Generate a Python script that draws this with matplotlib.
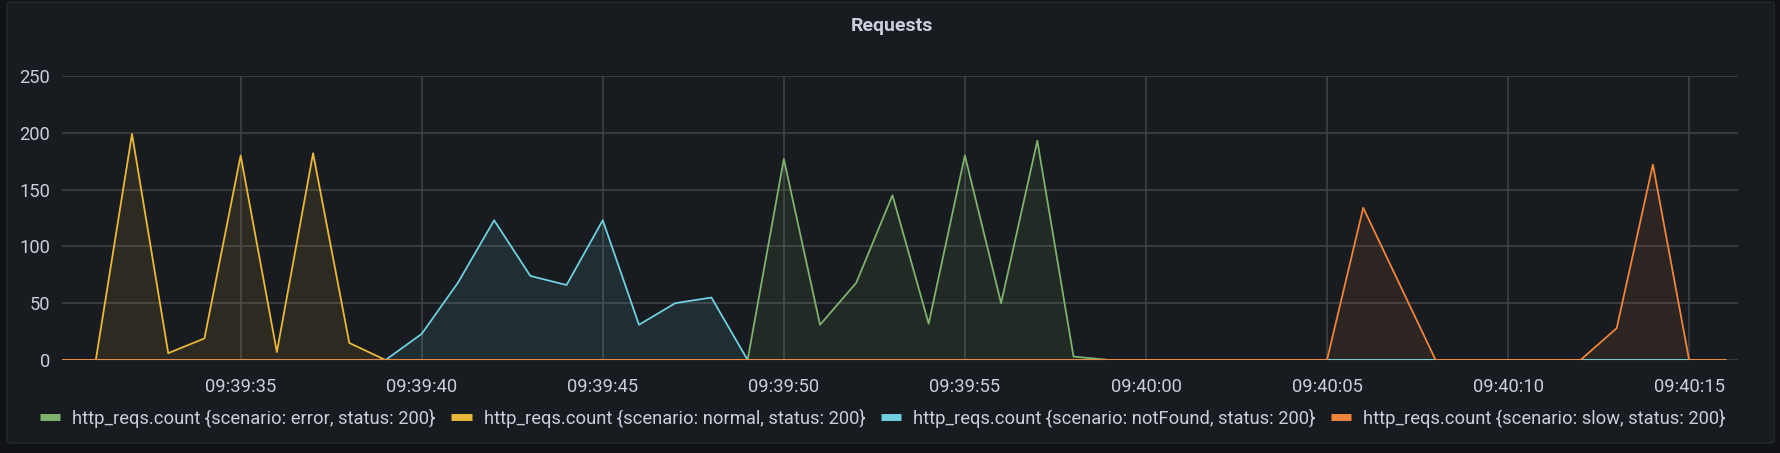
"""
Grafana-style "Requests" panel: http_reqs.count per scenario, one point per second.
"""

from datetime import datetime, timedelta

import matplotlib.pyplot as plt
import matplotlib.dates as mdates
from matplotlib.lines import Line2D
from matplotlib.patches import FancyBboxPatch

plt.rcParams["font.family"] = ["Roboto", "DejaVu Sans"]

START = datetime(2021, 1, 1, 9, 39, 30)
N_POINTS = 47  # 09:39:30 .. 09:40:16

# one value per second
error_counts = [0, 0, 0, 0, 0, 0, 0, 0, 0, 0,
                0, 0, 0, 0, 0, 0, 0, 0, 0, 0,
                177, 31, 68, 145, 32, 180, 50, 193, 3, 0,
                0, 0, 0, 0, 0, 0, 0, 0, 0, 0,
                0, 0, 0, 0, 0, 0, 0]
normal_counts = [0, 0, 199, 6, 19, 180, 7, 182, 15, 0,
                 0, 0, 0, 0, 0, 0, 0, 0, 0, 0,
                 0, 0, 0, 0, 0, 0, 0, 0, 0, 0,
                 0, 0, 0, 0, 0, 0, 0, 0, 0, 0,
                 0, 0, 0, 0, 0, 0, 0]
notfound_counts = [0, 0, 0, 0, 0, 0, 0, 0, 0, 0,
                   23, 68, 123, 74, 66, 123, 31, 50, 55, 0,
                   0, 0, 0, 0, 0, 0, 0, 0, 0, 0,
                   0, 0, 0, 0, 0, 0, 0, 0, 0, 0,
                   0, 0, 0, 0, 0, 0, 0]
slow_counts = [0, 0, 0, 0, 0, 0, 0, 0, 0, 0,
               0, 0, 0, 0, 0, 0, 0, 0, 0, 0,
               0, 0, 0, 0, 0, 0, 0, 0, 0, 0,
               0, 0, 0, 0, 0, 0, 134, 67, 0, 0,
               0, 0, 0, 28, 172, 0, 0]

series_labels = [
    "http_reqs.count {scenario: error, status: 200}",
    "http_reqs.count {scenario: normal, status: 200}",
    "http_reqs.count {scenario: notFound, status: 200}",
    "http_reqs.count {scenario: slow, status: 200}",
]
series_colors = ["#7EB26D", "#EAB839", "#6ED0E0", "#EF843C"]
y_ticks = [0, 50, 100, 150, 200, 250]

times = [START + timedelta(seconds=i) for i in range(N_POINTS)]

BG_OUTER = "#111217"
BG_PANEL = "#181b1f"
TEXT = "#ccccdc"
GRID = "#414448"

fig = plt.figure(figsize=(17.81, 4.53), dpi=100)
fig.patch.set_facecolor(BG_OUTER)

# panel box
panel = FancyBboxPatch(
    (7 / 1781, 10 / 453), 1767 / 1781, 441 / 453,
    boxstyle="round,pad=0,rounding_size=0.004",
    transform=fig.transFigure, facecolor=BG_PANEL,
    edgecolor="#25282d", linewidth=1, zorder=-10,
)
fig.patches.append(panel)

ax = fig.add_axes([62.5 / 1781, 1 - 360 / 453, 1675.5 / 1781, 284 / 453])
ax.set_facecolor("none")

all_series = [error_counts, normal_counts, notfound_counts, slow_counts]
for values, color, label in zip(all_series, series_colors, series_labels):
    ax.fill_between(times, 0, values, color=color, alpha=0.1, linewidth=0)
    ax.plot(times, values, color=color, linewidth=1.3, label=label)

ax.set_ylim(0, 250)
ax.set_yticks(y_ticks)
ax.set_xlim(START + timedelta(seconds=0.08), START + timedelta(seconds=46.35))
ax.xaxis.set_major_locator(mdates.SecondLocator(bysecond=range(0, 60, 5)))
ax.xaxis.set_major_formatter(mdates.DateFormatter("%H:%M:%S"))

for s in ax.spines.values():
    s.set_visible(False)
ax.tick_params(axis="both", length=0, colors=TEXT, labelsize=13.2)
ax.tick_params(axis="x", pad=13)
ax.tick_params(axis="y", pad=9)
ax.grid(True, color=GRID, linewidth=1.1)
ax.set_axisbelow(True)

fig.text(0.501, 1 - 26 / 453, "Requests", ha="center", va="center",
         color=TEXT, fontsize=14, fontweight="bold")

handles = [Line2D([0], [0], color=c, linewidth=5, solid_capstyle="butt")
           for c in series_colors]
fig.legend(handles, series_labels, loc="center left",
           bbox_to_anchor=(33 / 1781, 1 - 418 / 453), ncol=4, frameon=False,
           fontsize=13.2, labelcolor=TEXT, handlelength=1.1,
           handletextpad=0.65, columnspacing=0.87, borderaxespad=0)

plt.savefig("out.png", dpi=100, facecolor=fig.get_facecolor())
